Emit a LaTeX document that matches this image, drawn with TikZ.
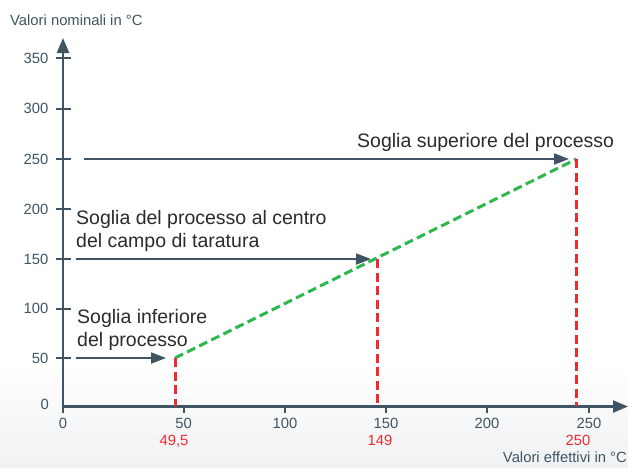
\documentclass[tikz,border=0pt]{standalone}
\usepackage{fontspec}
\setmainfont{Liberation Sans}
\usetikzlibrary{arrows.meta}
\definecolor{axiscol}{HTML}{3F5563}
\definecolor{txtcol}{HTML}{2B2B2B}
\definecolor{redcol}{HTML}{EE2B2E}
\definecolor{greencol}{HTML}{2DB84C}
\definecolor{bgbottom}{HTML}{F0F1F3}
\tikzset{
  axisline/.style={draw=axiscol, line width=2.4pt, -{Triangle[length=15pt,width=12pt]}},
  tickline/.style={draw=axiscol, line width=2pt},
  pointer/.style={draw=axiscol, line width=2pt, -{Triangle[length=15pt,width=11pt]}},
  reddash/.style={draw=redcol, line width=3pt, dash pattern=on 9pt off 4.5pt},
  greendash/.style={draw=greencol, line width=3pt, dash pattern=on 9pt off 4.5pt},
  ticklab/.style={text=axiscol, font=\fontsize{14.8}{17}\selectfont, inner sep=0pt},
  redlab/.style={text=redcol, font=\fontsize{14.8}{17}\selectfont, inner sep=0pt, anchor=base},
  bigtext/.style={text=txtcol, font=\fontsize{19.5}{23}\selectfont, inner sep=0pt, align=left},
}
\begin{document}
\begin{tikzpicture}[x=1pt,y=-1pt]
\fill[white] (0,0) rectangle (628,467);
\shade[top color=white, bottom color=bgbottom] (0,365) rectangle (628,467);
\useasboundingbox (0,0) rectangle (628,467);
% axes
\coordinate (yb) at (63,413);
\coordinate (yt) at (63,38);
\coordinate (xo) at (62,406.5);
\coordinate (xe) at (628,406.5);
\draw[axisline] (yb) -- (yt);
\draw[axisline] (xo) -- (xe);
% y ticks
\foreach \v/\y in {50/358,100/308.5,150/259,200/209,250/159,300/108.5,350/58}{
  \coordinate (ty\v) at (63,\y);
  \draw[tickline] ([xshift=-7.5pt]ty\v) -- ([xshift=7.5pt]ty\v);
  \node[ticklab, anchor=east] (ly\v) at (48.5,\y) {\v};
}
\node[ticklab, anchor=east] (ly0) at (49,404) {0};
% x ticks
\foreach \v/\x in {50/183.5,100/285,150/386,200/487,250/589}{
  \coordinate (tx\v) at (\x,406.5);
  \draw[tickline] ([yshift=-6pt]tx\v) -- ([yshift=2pt]tx\v);
  \node[ticklab, anchor=base] (lx\v) at (\x,428) {\v};
}
\node[ticklab, anchor=base] (lx0) at (63,428) {0};
% axis titles
\node[ticklab, anchor=base west] (ytitle) at (10,25) {Valori nominali in °C};
\node[ticklab, anchor=base east] (xtitle) at (627,462) {Valori effettivi in °C};
% process points
\coordinate (P1) at (175,358);
\coordinate (P2) at (377.5,259);
\coordinate (P3) at (576.5,159);
\coordinate (F1) at (175,406);
\coordinate (F2) at (377.5,406);
\coordinate (F3) at (576.5,406);
\draw[greendash] (P1) -- (P3);
\draw[reddash] (P1) -- (F1);
\draw[reddash] (P2) -- (F2);
\draw[reddash] (P3) -- (F3);
\node[redlab] (r1) at (174,445) {49,5};
\node[redlab] (r2) at (380,445) {149};
\node[redlab] (r3) at (578,445) {250};
% pointer arrows
\coordinate (A3s) at (84,159);
\coordinate (A3e) at (569,159);
\coordinate (A2s) at (76,259);
\coordinate (A2e) at (371,259);
\coordinate (A1s) at (76,358);
\coordinate (A1e) at (166,358);
\draw[pointer] (A3s) -- (A3e);
\draw[pointer] (A2s) -- (A2e);
\draw[pointer] (A1s) -- (A1e);
% labels
\node[bigtext, anchor=base west] (t3) at (357,147) {Soglia superiore del processo};
\node[bigtext, anchor=base west] (t2) at (76,247) {Soglia del processo al centro\\del campo di taratura};
\node[bigtext, anchor=base west] (t1) at (77,346) {Soglia inferiore\\del processo};
\end{tikzpicture}
\end{document}
